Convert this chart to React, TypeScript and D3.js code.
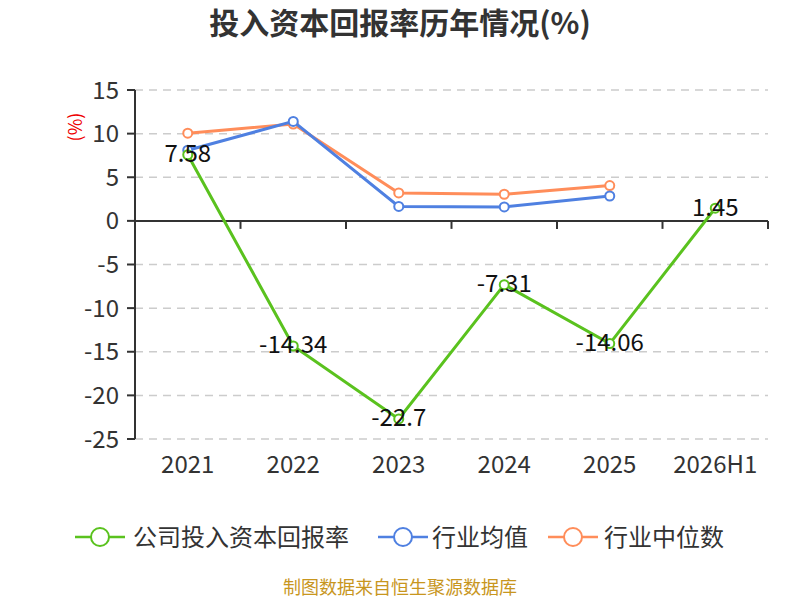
import React from "react";
import * as d3 from "d3";

const categories = ["2021", "2022", "2023", "2024", "2025", "2026H1"];
const companyValues = [7.58, -14.34, -22.7, -7.31, -14.06, 1.45];
const industryMean = [8.1, 11.4, 1.65, 1.6, 2.85];
const industryMedian = [10.05, 11.1, 3.2, 3.05, 4.05];
const yTicks = [15, 10, 5, 0, -5, -10, -15, -20, -25];

const series = [
  { name: "公司投入资本回报率", color: "#5ac21e", values: companyValues },
  { name: "行业均值", color: "#4f80e1", values: industryMean },
  { name: "行业中位数", color: "#ff8d5a", values: industryMedian },
];

const FONT = "'Noto Sans CJK SC', 'Noto Sans', sans-serif";

export default function App() {
  const W = 800, H = 600;
  const left = 135, right = 768, top = 90, bottom = 439;
  const x = d3.scaleBand<string>().domain(categories).range([left, right]);
  const y = d3.scaleLinear().domain([-25, 15]).range([bottom, top]);
  const line = d3.line<[number, number]>().x(d => d[0]).y(d => d[1]);
  const cx = (i: number) => (x(categories[i]) as number) + x.bandwidth() / 2;
  const boundaries = categories.map(c => x(c) as number).concat([right]);

  const legendItems = [
    { x0: 75, tx: 133 },
    { x0: 378, tx: 432 },
    { x0: 548, tx: 604 },
  ];

  return (
    <svg width={W} height={H} style={{ display: "block", position: "absolute", left: 0, top: 0 }} fontFamily={FONT}>
      <rect width={W} height={H} fill="#fff" />
      <text x={400} y={21} dominantBaseline="central" textAnchor="middle" fontSize={30} fontWeight="bold" fill="#333">投入资本回报率历年情况(%)</text>
      <text transform={`translate(74,127) rotate(-90)`} dominantBaseline="central" textAnchor="middle" fontSize={18} fill="#e00">(%)</text>

      {yTicks.filter(t => t !== 0).map(t => (
        <line key={"g" + t} x1={left} x2={right} y1={y(t)} y2={y(t)} stroke="#ccc" strokeDasharray="8,6" strokeWidth={1.5} />
      ))}
      <line x1={left} x2={left} y1={top} y2={bottom} stroke="#333" strokeWidth={2} />
      {yTicks.map(t => (
        <g key={"t" + t}>
          <line x1={left - 8} x2={left} y1={y(t)} y2={y(t)} stroke="#333" strokeWidth={2} />
          <text x={left - 16} y={y(t) - 2} dominantBaseline="central" textAnchor="end" fontSize={24} fill="#333">{t}</text>
        </g>
      ))}
      <line x1={left} x2={right} y1={y(0)} y2={y(0)} stroke="#333" strokeWidth={2} />
      {boundaries.map((b, i) => (
        <line key={"b" + i} x1={b} x2={b} y1={y(0)} y2={y(0) + 8} stroke="#333" strokeWidth={2} />
      ))}
      {categories.map((c, i) => (
        <text key={c} x={cx(i)} y={462} dominantBaseline="central" textAnchor="middle" fontSize={24} fill="#333">{c}</text>
      ))}

      {series.slice().reverse().map(s => {
        const pts = s.values.map((v, i) => [cx(i), y(v)] as [number, number]);
        return (
          <g key={s.name}>
            <path d={line(pts) || ""} fill="none" stroke={s.color} strokeWidth={3} />
            {pts.map((p, i) => (
              <circle key={i} cx={p[0]} cy={p[1]} r={4.5} fill="#fff" stroke={s.color} strokeWidth={2} />
            ))}
          </g>
        );
      })}
      {series[0].values.map((v, i) => (
        <text key={"l" + i} x={cx(i)} y={y(v) - 3} dominantBaseline="central" textAnchor="middle" fontSize={24} fill="#111">{v}</text>
      ))}

      {series.map((s, i) => (
        <g key={"lg" + i}>
          <line x1={legendItems[i].x0} x2={legendItems[i].x0 + 50} y1={537} y2={537} stroke={s.color} strokeWidth={2.5} />
          <circle cx={legendItems[i].x0 + 25} cy={537} r={9} fill="#fff" stroke={s.color} strokeWidth={2} />
          <text x={legendItems[i].tx} y={535} dominantBaseline="central" fontSize={24} fill="#333">{s.name}</text>
        </g>
      ))}

      <text x={400} y={586} dominantBaseline="central" textAnchor="middle" fontSize={18} fill="#c8961e">制图数据来自恒生聚源数据库</text>
    </svg>
  );
}
